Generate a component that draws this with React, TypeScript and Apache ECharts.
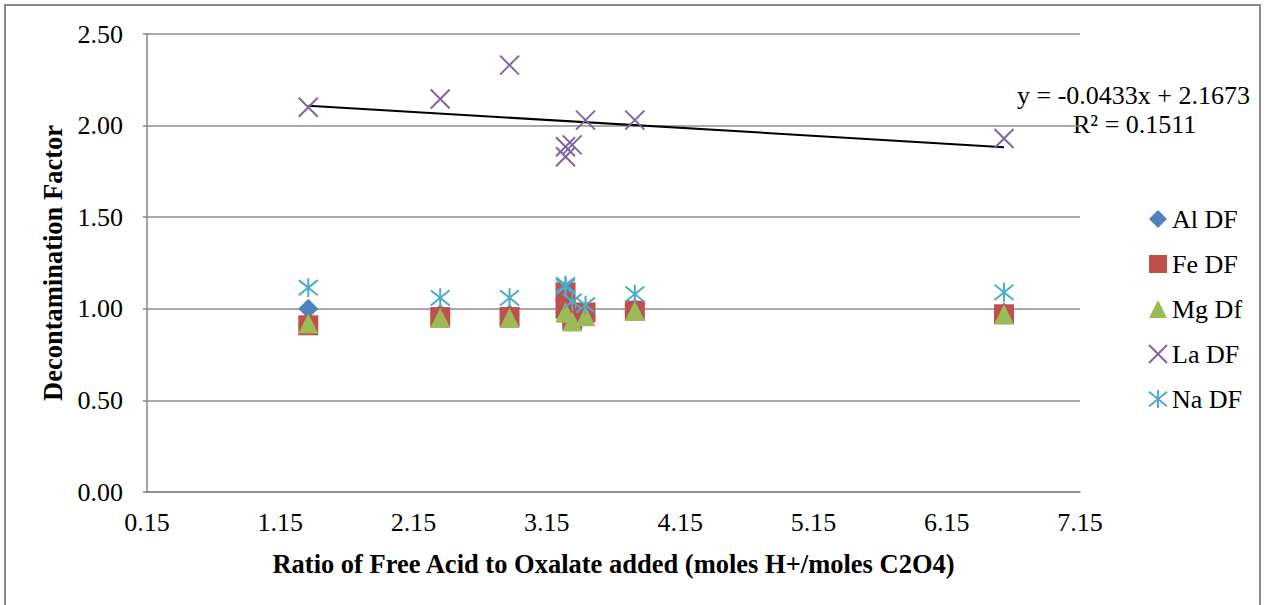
import React, { useEffect, useRef } from "react";
import * as echarts from "echarts";

// Ratio of free acid to oxalate (moles H+/moles C2O4) for each run
const ratio = [1.36, 2.35, 2.87, 3.29, 3.29, 3.34, 3.44, 3.81, 6.58];

// Decontamination factors per element
const alDF = [1.0, 0.97, 0.97, 1.02, 1.0, 0.96, 0.98, 1.0, 0.98];
const feDF = [0.91, 0.955, 0.955, 1.09, 1.0, 0.94, 0.98, 0.99, 0.97];
const mgDF = [0.92, 0.95, 0.95, 0.98, 0.98, 0.93, 0.96, 0.99, 0.97];
const laDF = [2.1, 2.145, 2.33, 1.83, 1.885, 1.895, 2.03, 2.03, 1.93];
const naDF = [1.115, 1.06, 1.06, 1.13, 1.12, 1.04, 1.02, 1.08, 1.09];

// Linear trendline fitted to La DF
const trendSlope = -0.0433;
const trendIntercept = 2.1673;
const trendR2 = 0.1511;

const xTicks = { min: 0.15, max: 7.15, step: 1 };
const yTicks = { min: 0, max: 2.5, step: 0.5 };

const FONT = "'Liberation Serif', 'Times New Roman', serif";
const FS = 26;

const CROSS = "path://M0,0L20,20M20,0L0,20";
const STAR = "path://M0,2L20,18M20,2L0,18M10,0L10,20";

const pairs = (ys: number[]) => ratio.map((x, i) => [x, ys[i]]);

export default function App() {
  const ref = useRef<HTMLDivElement>(null);

  useEffect(() => {
    if (!ref.current) return;
    const chart = echarts.init(ref.current, null, { renderer: "svg" });

    const xMin = Math.min(...ratio);
    const xMax = Math.max(...ratio);
    const trend = [xMin, xMax].map((x) => [x, trendSlope * x + trendIntercept]);

    const eq = `y = ${trendSlope.toFixed(4)}x + ${trendIntercept.toFixed(4)}`;

    chart.setOption({
      animation: false,
      backgroundColor: "#ffffff",
      grid: { left: 147, right: 185, top: 34, bottom: 113, containLabel: false },
      xAxis: {
        type: "value",
        min: xTicks.min,
        max: xTicks.max,
        interval: xTicks.step,
        name: "Ratio of Free Acid to Oxalate added (moles H+/moles C2O4)",
        nameLocation: "middle",
        nameGap: 58,
        nameTextStyle: { fontFamily: FONT, fontSize: 26.5, fontWeight: "bold", color: "#000" },
        axisLine: { show: true, onZero: false, lineStyle: { color: "#868686", width: 1.5 } },
        axisTick: { show: false },
        splitLine: { show: false },
        axisLabel: {
          margin: 17,
          fontFamily: FONT,
          fontSize: FS,
          color: "#000",
          formatter: (v: number) => v.toFixed(2),
        },
      },
      yAxis: {
        type: "value",
        min: yTicks.min,
        max: yTicks.max,
        interval: yTicks.step,
        name: "Decontamination Factor",
        nameLocation: "middle",
        nameGap: 77,
        nameTextStyle: { fontFamily: FONT, fontSize: 26.5, fontWeight: "bold", color: "#000" },
        axisLine: { show: true, lineStyle: { color: "#868686", width: 1.5 } },
        axisTick: { show: true, length: 4, lineStyle: { color: "#868686", width: 1.5 } },
        splitLine: { show: true, lineStyle: { color: "#8c8c8c", width: 1.5 } },
        axisLabel: {
          margin: 24,
          fontFamily: FONT,
          fontSize: FS,
          color: "#000",
          formatter: (v: number) => v.toFixed(2),
        },
      },
      legend: {
        orient: "vertical",
        left: 1143,
        top: 201,
        itemGap: 19,
        itemWidth: 18,
        itemHeight: 18,
        textStyle: { fontFamily: FONT, fontSize: FS, color: "#000" },
        data: ["Al DF", "Fe DF", "Mg Df", "La DF", "Na DF"],
      },
      series: [
        {
          name: "Al DF",
          type: "scatter",
          symbol: "diamond",
          symbolSize: 20,
          itemStyle: { color: "#4F81BD", opacity: 1 },
          data: pairs(alDF),
        },
        {
          name: "Fe DF",
          type: "scatter",
          symbol: "rect",
          symbolSize: 20,
          itemStyle: { color: "#C0504D", opacity: 1 },
          data: pairs(feDF),
        },
        {
          name: "Mg Df",
          type: "scatter",
          symbol: "triangle",
          symbolSize: 20,
          itemStyle: { color: "#9BBB59", opacity: 1 },
          data: pairs(mgDF),
        },
        {
          name: "La DF",
          type: "scatter",
          symbol: CROSS,
          symbolSize: 19,
          itemStyle: { color: "#8064A2", borderColor: "#8064A2", borderWidth: 2, opacity: 1 },
          data: pairs(laDF),
        },
        {
          name: "Na DF",
          type: "scatter",
          symbol: STAR,
          symbolSize: 19,
          itemStyle: { color: "#4BACC6", borderColor: "#4BACC6", borderWidth: 2, opacity: 1 },
          data: pairs(naDF),
        },
        {
          name: "Linear (La DF)",
          type: "line",
          showSymbol: false,
          symbol: "none",
          lineStyle: { color: "#000", width: 2 },
          data: trend,
          z: 1,
        },
      ],
      graphic: [
        {
          type: "rect",
          shape: { x: 5, y: 5, width: 1255, height: 603 },
          style: { fill: "none", stroke: "#8a8a8a", lineWidth: 2 },
          silent: true,
        },
        {
          type: "text",
          x: 1017,
          y: 95,
          style: {
            text: eq,
            font: `${FS}px ${FONT}`,
            fill: "#000",
            verticalAlign: "middle",
          },
        },
        {
          type: "text",
          x: 1073,
          y: 124,
          style: {
            text: `R² = ${trendR2.toFixed(4)}`,
            font: `${FS}px ${FONT}`,
            fill: "#000",
            verticalAlign: "middle",
          },
        },
      ],
    });

    return () => chart.dispose();
  }, []);

  return (
    <div
      ref={ref}
      style={{ position: "fixed", left: 0, top: 0, width: 1265, height: 605 }}
    />
  );
}
